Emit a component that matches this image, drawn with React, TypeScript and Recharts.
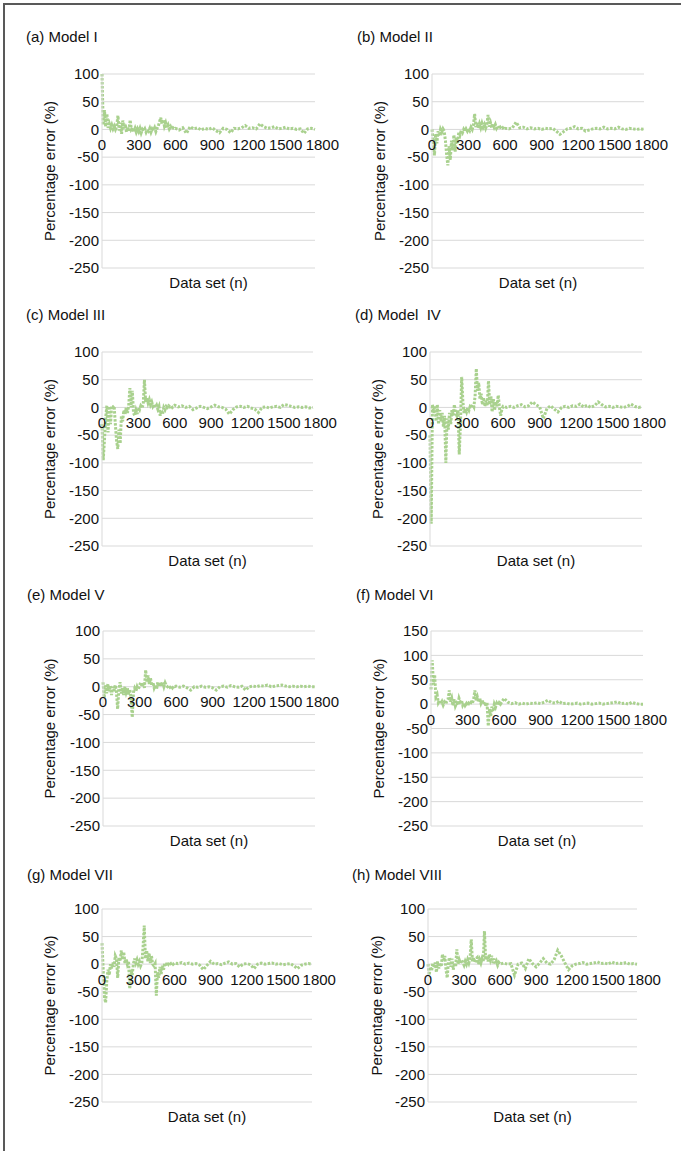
import React from 'react';
import { LineChart, Line, XAxis, YAxis, CartesianGrid, ReferenceDot } from 'recharts';

// sample positions along the data set axis: every 10 up to 590, then every 30
const SAMPLE_X = [
  ...Array.from({ length: 60 }, (_, i) => i * 10),
  ...Array.from({ length: 39 }, (_, i) => 600 + i * 30),
];

const X_TICKS = [0, 300, 600, 900, 1200, 1500, 1800];
const Y_TICKS = [-250, -200, -150, -100, -50, 0, 50, 100];
const Y_TICKS_VI = [-250, -200, -150, -100, -50, 0, 50, 100, 150];

const MODEL_I = [
  100, 8, 35, 5, 28, 3, 10, 2, 8, 1,
  6, 0, 5, 25, -2, 12, -8, 16, 2, 10,
  -5, 4, -3, 17, 0, 3, -4, 2, -5, 1,
  -4, 2, -6, 0, -3, 1, -5, 0, -3, 2,
  -5, 1, -2, 3, -4, 2, 6, 14, 21, 10,
  18, 6, 12, 3, 8, 1, 5, 0, 3, 1,
  2, -1, 3, -7, 5, 1, 3, -1, 2, 0, 3, -2, -6, 2, 0, -6, 2, 1, 3, 7,
  2, 3, 1, 10, 5, 2, 3, 5, 1, 2, 4, 1, 2, 0, 1, -7, 1, 2, 0,
];

const MODEL_II = [
  0, -20, -47, -8, -25, -3, -12, 0, -5, 1,
  -3, -20, -45, -65, -30, -55, -20, -38, -10, -40,
  -15, -25, -5, -10, -2, -6, 0, -4, 1, -3,
  2, -2, 4, 0, 8, 28, 4, 12, 2, 10,
  3, 11, 4, 9, 2, 8, 26, 5, 12, 3,
  10, 4, 9, 2, 6, 1, 4, 1, 3, 0,
  2, 1, 3, 13, 3, 4, 1, 3, 1, 2, 0, 2, 1, 2, -3, -9, -4, 1, 2, 5,
  1, 2, -3, -1, 1, 2, 1, 4, 1, 2, 1, 4, 1, 0, 2, 1, 0, 1, 0,
];

const MODEL_III = [
  -30, -95, -60, -20, 3, -45, 2, -30, 3, 1,
  3, -30, -60, -75, -40, -65, -15, -25, -5, -12,
  0, -10, 3, 35, 0, 30, -10, -15, -5, -12,
  0, -4, 3, 0, 5, 50, 10, 18, 8, 14,
  5, 10, 2, 6, 0, 4, -3, 2, -15, -5,
  -12, 0, -4, 2, 0, 3, 1, 3, 0, 2,
  4, 1, 3, 0, 2, -4, -1, 2, 0, -2, 1, 4, 1, 0, -3, -12, -4, 1, 2, 0,
  2, -1, -3, -9, 0, 1, -1, 1, 2, 0, 5, 4, 2, 0, 1, 0, 1, -1, 0,
];

const MODEL_IV = [
  -50, -210, 5, -10, 3, -25, 5, -30, -5, -25,
  -10, -35, -15, -100, -20, -40, -10, -30, -5, -15,
  5, -10, -15, -5, -85, -30, 55, 10, -10, -2,
  -8, 0, -5, 2, 0, 5, 1, 20, 70, 30,
  45, 15, 25, 5, 18, 2, 12, 3, 48, 5,
  20, -8, 15, -5, 10, 2, 22, 0, -15, -3,
  2, 0, 2, 0, 3, 5, 1, 3, 10, 5, 1, -20, -2, 3, -3, -8, 0, 2, 0, 3,
  2, 6, 1, 4, 0, 3, 10, 5, 1, 2, 0, 2, 1, 0, 2, 6, 2, 0, 1,
];

const MODEL_V = [
  8, -20, 3, -12, 5, -8, 2, -15, 0, -10,
  3, -8, -40, -5, 8, -12, -2, -15, 0, -10,
  -3, -14, -5, -20, -55, -10, -3, -8, 0, -5,
  2, 8, 0, 7, -2, 30, 8, 20, 5, 15,
  2, 8, -2, 3, -4, 8, 0, 8, 1, 8,
  0, 7, 2, 0, 2, -1, 1, -2, 1, 0,
  1, -1, 1, -2, -6, 0, -1, 1, -1, 0, -2, -6, 0, 1, -1, 2, 0, -1, 1, -6,
  0, 1, 0, 2, 1, 3, 0, 1, 2, 3, 1, 0, 1, 0, 1, 0, 1, 0, 0,
];

const MODEL_VI = [
  30, 90, 40, 60, 15, 20, 3, 8, 0, 5,
  -2, 4, 0, 6, 10, 28, 5, 12, -3, 10,
  -4, 2, -2, 12, 5, 8, -2, 3, -3, 1,
  -4, 2, 0, 4, 2, 10, 28, 8, 15, 4,
  12, 2, 8, 0, 5, -5, 3, -45, -10, -25,
  -5, -15, 0, -6, 2, -2, 3, 0, 4, 8,
  12, 4, 1, 3, 0, 2, 0, 2, 1, 3, 1, 4, 8, 3, 2, 6, 1, 2, 0, 1,
  2, 0, 1, 2, 0, 1, 2, 0, 1, 2, 3, 5, 1, 2, 0, 4, 1, 0, 0,
];

const MODEL_VII = [
  38, -10, -60, -70, -30, -10, -20, 0, -8, 3,
  -5, 15, 10, -25, 12, 5, 25, 8, 22, 2,
  10, 0, 5, -45, -10, -20, 0, 10, 2, 8,
  0, 5, -3, 2, 30, 70, 10, 25, 5, 20,
  2, 15, 0, -3, 1, -57, -15, -25, -5, -18,
  -3, -10, 2, -4, 3, 0, 4, 1, 3, 0,
  2, 1, 3, 0, 2, 0, 1, -2, -10, -2, 5, 0, 1, -1, 2, 4, 0, 1, -5, 0,
  1, -1, -8, 0, 2, 0, 1, 2, 0, 1, -1, 0, 1, -3, -8, -2, 0, 1, 0,
];

const MODEL_VIII = [
  0, -20, -5, -12, 2, -6, 3, -15, 5, -8,
  2, -5, 18, 5, 15, -10, -25, 5, 12, -5,
  10, -10, 2, -5, 27, 0, 8, 2, 8, 3,
  -2, 5, 0, 8, 2, 10, 45, 5, 12, 3,
  10, 12, 0, 8, 2, 10, 5, 60, 8, 15,
  5, 18, 8, 15, 2, 10, 0, 5, -2, 3,
  0, 2, 0, 1, -20, 0, 2, -8, 10, 1, -5, 2, 10, 2, 0, 8, 25, 15, 2, -10,
  -3, 0, 1, 3, 0, 1, 2, 4, 1, 2, 0, 4, 1, 2, 1, 3, 0, 1, 0,
];

const FONT = '"Liberation Sans", Arial, sans-serif';
const TEXT = '#111111';
const GRID = '#d9d9d9';
const GREEN = '#a9d18e';
const X_MAX = 1740;
const TOP = 10;
const RIGHT = 30;
const XAXIS_H = 20;
const BOTTOM = 4;

// layout of each panel (plot box in page pixels)
const PANELS = [
  { title: '(a) Model I', values: MODEL_I, yMax: 100, base: 0, left: 102, top: 74, w: 213, h: 194, tx: 26, ty: 37, yTitle: 50 },
  { title: '(b) Model II', values: MODEL_II, yMax: 100, base: 330, left: 432, top: 74, w: 212, h: 194, tx: 357, ty: 37, yTitle: 380 },
  { title: '(c) Model III', values: MODEL_III, yMax: 100, base: 0, left: 102, top: 352, w: 211, h: 194, tx: 26, ty: 315, yTitle: 50 },
  { title: '(d) Model  IV', values: MODEL_IV, yMax: 100, base: 330, left: 430, top: 352, w: 212, h: 194, tx: 355, ty: 315, yTitle: 378 },
  { title: '(e) Model V', values: MODEL_V, yMax: 100, base: 0, left: 103, top: 631, w: 212, h: 195, tx: 27, ty: 595, yTitle: 50 },
  { title: '(f) Model VI', values: MODEL_VI, yMax: 150, base: 330, left: 431, top: 631, w: 212, h: 195, tx: 356, ty: 595, yTitle: 379 },
  { title: '(g) Model VII', values: MODEL_VII, yMax: 100, base: 0, left: 102, top: 909, w: 210, h: 193, tx: 27, ty: 875, yTitle: 50 },
  { title: '(h) Model VIII', values: MODEL_VIII, yMax: 100, base: 330, left: 428, top: 909, w: 209, h: 193, tx: 352, ty: 875, yTitle: 377 },
];

type PanelDef = (typeof PANELS)[number];

const Panel: React.FC<{ p: PanelDef }> = ({ p }) => {
  const rows = SAMPLE_X.map((x, i) => ({ x, v: p.values[i] }));
  const axisW = p.left - p.base;
  const width = axisW + p.w + RIGHT;
  const height = TOP + p.h + XAXIS_H + BOTTOM;
  return (
    <div style={{ position: 'absolute', left: p.base, top: p.top - TOP }}>
      <LineChart width={width} height={height} data={rows} margin={{ top: TOP, right: RIGHT, bottom: BOTTOM, left: 0 }}>
        <CartesianGrid vertical={false} stroke={GRID} />
        <XAxis
          dataKey="x"
          type="number"
          domain={[0, X_MAX]}
          height={XAXIS_H}
          tick={false}
          tickLine={false}
          axisLine={false}
          label={{ value: 'Data set (n)', position: 'insideBottom', offset: 0, fill: TEXT, fontSize: 15 }}
        />
        <YAxis
          type="number"
          domain={[-250, p.yMax]}
          ticks={p.yMax === 150 ? Y_TICKS_VI : Y_TICKS}
          interval={0}
          width={axisW}
          tickLine={false}
          tickSize={0}
          tickMargin={3}
          axisLine={{ stroke: GRID }}
          tick={{ fill: TEXT, fontSize: 15 }}
          label={{
            value: 'Percentage error (%)',
            angle: -90,
            position: 'insideLeft',
            offset: p.yTitle - p.base,
            fill: TEXT,
            fontSize: 15,
            textAnchor: 'middle',
            style: { textAnchor: 'middle' },
          }}
        />
        <Line
          type="linear"
          dataKey="v"
          stroke={GREEN}
          strokeWidth={3}
          strokeDasharray="2.5 1.5"
          dot={false}
          activeDot={false}
          isAnimationActive={false}
        />
        {X_TICKS.map((t) => (
          <ReferenceDot
            key={t}
            x={t}
            y={0}
            r={0}
            fill="none"
            stroke="none"
            ifOverflow="visible"
            label={{ value: String(t), position: 'bottom', offset: 10, fill: TEXT, fontSize: 15 }}
          />
        ))}
      </LineChart>
    </div>
  );
};

export default function App() {
  return (
    <div style={{ position: 'relative', width: 681, height: 1151, overflow: 'hidden', background: '#fff', fontFamily: FONT }}>
      <style>{'body{margin:0}'}</style>
      <div
        style={{
          position: 'absolute',
          left: 3,
          top: 3,
          width: 700,
          height: 1200,
          borderLeft: '2px solid #595959',
          borderTop: '2px solid #595959',
        }}
      />
      {PANELS.map((p) => (
        <Panel key={p.title} p={p} />
      ))}
      {PANELS.map((p) => (
        <div
          key={'t' + p.title}
          style={{
            position: 'absolute',
            left: p.tx,
            top: p.ty - 9,
            fontSize: 15,
            lineHeight: '18px',
            color: TEXT,
            whiteSpace: 'pre',
          }}
        >
          {p.title}
        </div>
      ))}
    </div>
  );
}
